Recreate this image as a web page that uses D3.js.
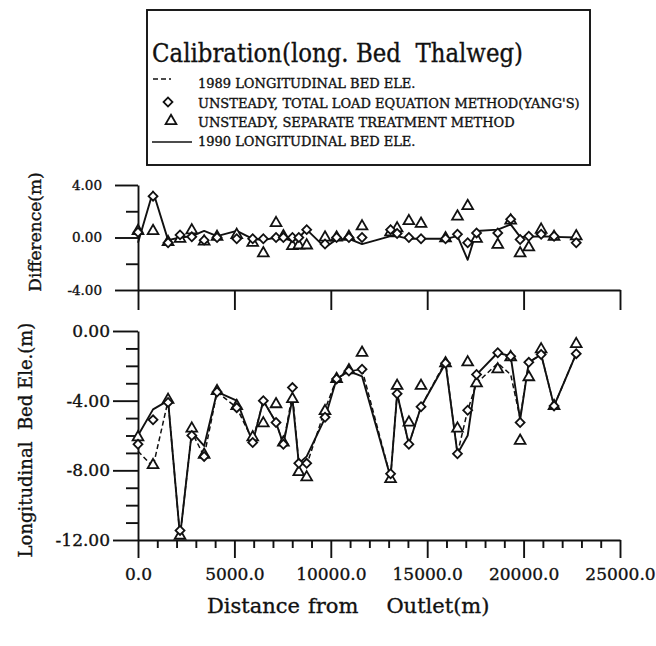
<!DOCTYPE html>
<html><head><meta charset="utf-8">
<script src="https://cdn.jsdelivr.net/npm/d3@7"></script>
<style>
body{margin:0;background:#fff}
svg{display:block}
text{font-family:"DejaVu Serif",serif;fill:#111;stroke:#111;stroke-width:0.35px}
</style>
</head><body>
<svg id="chart" width="656" height="646"></svg>
<script>
// ---------------- data ----------------
const distance = [0, 780, 1560, 2180, 2790, 3430, 4100, 5120, 5950, 6500, 7160, 7540, 8010, 8340, 8750, 9700, 10300, 10940, 11620, 13100, 13440, 14050, 14680, 15950, 16570, 17100, 17560, 18660, 19330, 19820, 20270, 20910, 21580, 22730];
const bed1989 = [-6.9, -7.8, -4.0, -11.8, -5.8, -7.2, -3.5, -4.4, -6.3, -4.0, -5.25, -6.5, -3.6, -7.6, -7.7, -4.5, -2.75, -2.3, -2.2, -8.4, -3.6, -6.5, -4.35, -1.75, -7.05, -4.55, -3.0, -1.85, -2.5, -5.0, -1.8, -1.35, -4.3, -1.3];
const bed1990 = [-6.0, -4.5, -4.0, -11.8, -5.8, -6.6, -3.5, -4.0, -6.4, -4.0, -5.25, -6.5, -3.9, -7.6, -7.2, -5.0, -2.75, -2.3, -2.6, -8.4, -3.6, -6.5, -4.35, -1.85, -7.05, -6.0, -2.5, -1.25, -1.45, -5.1, -1.8, -1.35, -4.3, -1.3];
const bedYang = [-6.5, -5.1, -4.1, -11.45, -6.0, -7.2, -3.5, -4.4, -6.4, -4.0, -5.25, -6.5, -3.25, -7.6, -7.6, -4.95, -2.75, -2.3, -2.2, -8.2, -3.6, -6.5, -4.35, -1.85, -7.05, -4.55, -2.5, -1.25, -1.45, -5.25, -1.8, -1.35, -4.3, -1.3];
const bedSeparate = [-6.1, -7.7, -3.95, -11.75, -5.6, -7.1, -3.45, -4.3, -6.1, -5.3, -4.2, -6.4, -3.9, -8.1, -8.4, -4.6, -2.75, -2.25, -1.25, -8.5, -3.15, -5.25, -3.15, -1.85, -5.6, -1.8, -3.0, -2.2, -1.5, -6.3, -2.65, -1.05, -4.3, -0.75];
const diffMeasured = [-0.4, 3.5, -0.2, 0.0, 0.1, 0.5, 0.1, 0.5, -0.1, -0.2, 0.0, 0.0, -0.3, 0.0, 0.6, -0.75, -0.15, -0.1, -0.5, 0.1, 0.1, -0.1, -0.1, -0.1, 0.1, -1.7, 0.5, 0.6, 1.0, 0.05, 0.05, 0.1, 0.05, 0.0];
const diffYang = [0.4, 3.15, -0.4, 0.2, 0.05, -0.2, 0.0, -0.1, -0.1, -0.1, 0.0, 0.0, 0.0, 0.0, 0.6, -0.5, 0.0, 0.0, 0.0, 0.6, 0.3, 0.0, -0.1, -0.1, 0.25, -0.4, 0.35, 0.35, 1.4, -0.15, 0.1, 0.25, 0.1, -0.4];
const diffSeparate = [0.5, 0.5, -0.35, -0.1, 0.55, -0.3, 0.05, 0.2, -0.4, -1.2, 1.1, 0.1, -0.65, -0.6, -0.6, 0.0, 0.0, 0.05, 0.85, 0.4, 0.7, 1.25, 1.05, -0.05, 1.6, 2.4, -0.1, -0.55, 1.3, -1.2, -0.75, 0.6, 0.05, 0.1];

const xMajor = [0, 5000, 10000, 15000, 20000, 25000];
const xMinor = d3.range(0, 25001, 1000).filter(v => v % 5000 !== 0);
const topMajor = [-4, 0, 4];
const topMinor = [-2, 2];
const botMajor = [0, -4, -8, -12];
const botMinor = [-1, -2, -3, -5, -6, -7, -9, -10, -11];

const titleText = "Calibration(long. Bed  Thalweg)";
const legendLabels = ["1989 LONGITUDINAL BED ELE.", "UNSTEADY, TOTAL LOAD EQUATION METHOD(YANG'S)", "UNSTEADY, SEPARATE TREATMENT METHOD", "1990 LONGITUDINAL BED ELE."];

// ---------------- drawing ----------------
const svg = d3.select("#chart");
const x = d3.scaleLinear().domain([0, 25000]).range([138, 620]);
const yTop = d3.scaleLinear().domain([-4, 4]).range([290, 185]);
const yBot = d3.scaleLinear().domain([-12, 0]).range([540, 331]);
const fmt2 = d => d.toFixed(2);
const fmt1 = d => d.toFixed(1);
const SW = 1.9;

function styleAxis(g) {
  g.selectAll("path.domain").attr("stroke", "#111").attr("stroke-width", SW);
  g.selectAll(".tick line").attr("stroke", "#111").attr("stroke-width", SW);
  g.selectAll("text").style("font-family", '"DejaVu Serif", serif').attr("fill", "#111");
}

// top panel axes
const gTopY = svg.append("g").attr("transform", "translate(138,0)")
  .call(d3.axisLeft(yTop).tickValues(topMajor).tickSize(23).tickSizeOuter(0).tickPadding(13).tickFormat(fmt2));
gTopY.selectAll("text").style("font-size", "13.5px");
styleAxis(gTopY);
const gTopYm = svg.append("g").attr("transform", "translate(138,0)")
  .call(d3.axisLeft(yTop).tickValues(topMinor).tickSize(12).tickSizeOuter(0).tickFormat(""));
gTopYm.select("path.domain").remove();
styleAxis(gTopYm);
const gTopX = svg.append("g").attr("transform", "translate(0,290)")
  .call(d3.axisBottom(x).tickValues(xMajor).tickSize(20).tickSizeOuter(0).tickFormat(""));
styleAxis(gTopX);

// bottom panel axes
const gBotY = svg.append("g").attr("transform", "translate(138,0)")
  .call(d3.axisLeft(yBot).tickValues(botMajor).tickSize(25).tickSizeOuter(0).tickPadding(3).tickFormat(fmt2));
gBotY.selectAll("text").style("font-size", "17px");
styleAxis(gBotY);
const gBotYm = svg.append("g").attr("transform", "translate(138,0)")
  .call(d3.axisLeft(yBot).tickValues(botMinor).tickSize(12).tickSizeOuter(0).tickFormat(""));
gBotYm.select("path.domain").remove();
styleAxis(gBotYm);
const gBotX = svg.append("g").attr("transform", "translate(0,540)")
  .call(d3.axisBottom(x).tickValues(xMajor).tickSize(18).tickSizeOuter(0).tickFormat(fmt1));
gBotX.selectAll("text").style("font-size", "17px").attr("y", 40).attr("dy", 0);
styleAxis(gBotX);
const gBotXm = svg.append("g").attr("transform", "translate(0,540)")
  .call(d3.axisBottom(x).tickValues(xMinor).tickSize(8).tickSizeOuter(0).tickFormat(""));
gBotXm.select("path.domain").remove();
styleAxis(gBotXm);

// lines
const idx = d3.range(distance.length);
function drawLine(vals, yScale, dashed) {
  const line = d3.line().x(i => x(distance[i])).y(i => yScale(vals[i]));
  svg.append("path").datum(idx).attr("d", line)
    .attr("fill", "none").attr("stroke", "#111")
    .attr("stroke-width", dashed ? 1.5 : 1.9)
    .attr("stroke-linejoin", "round")
    .attr("stroke-dasharray", dashed ? "5,3" : null);
}
const diamondPath = d3.symbol().type(d3.symbolSquare).size(40)();
const trianglePath = d3.symbol().type(d3.symbolTriangle).size(50)();
function drawMarkers(vals, yScale, kind) {
  svg.append("g").selectAll("path").data(idx).join("path")
    .attr("d", kind === "d" ? diamondPath : trianglePath)
    .attr("transform", i => `translate(${x(distance[i])},${yScale(vals[i])})` + (kind === "d" ? " rotate(45)" : ""))
    .attr("fill", "#fff").attr("stroke", "#111").attr("stroke-width", 1.8);
}

// top panel: difference
drawLine(diffMeasured, yTop, false);
drawMarkers(diffSeparate, yTop, "t");
drawMarkers(diffYang, yTop, "d");

// bottom panel: bed elevations
drawLine(bed1989, yBot, true);
drawLine(bed1990, yBot, false);
drawMarkers(bedSeparate, yBot, "t");
drawMarkers(bedYang, yBot, "d");

// axis titles
svg.append("text").attr("transform", "translate(41,232) rotate(-90)")
  .attr("text-anchor", "middle").style("font-size", "17px").text("Difference(m)");
svg.append("text").attr("transform", "translate(32,440) rotate(-90)")
  .attr("text-anchor", "middle").style("font-size", "18px").style("white-space", "pre")
  .text("Longitudinal  Bed Ele.(m)");
const xt = svg.append("text").attr("x", 207).attr("y", 613).style("font-size", "21px");
xt.append("tspan").text("Distance");
xt.append("tspan").attr("dx", 8).text("from");
xt.append("tspan").attr("dx", 28).text("Outlet(m)");

// legend
svg.append("rect").attr("x", 147).attr("y", 10).attr("width", 443).attr("height", 155)
  .attr("fill", "none").attr("stroke", "#111").attr("stroke-width", 1.9);
svg.append("text").attr("x", 152).attr("y", 62).style("font-size", "26px").style("white-space", "pre")
  .attr("textLength", 371).attr("lengthAdjust", "spacingAndGlyphs").text(titleText);
const legY = [88, 108, 127, 146];
svg.append("g").selectAll("text").data(legendLabels).join("text")
  .attr("x", 198).attr("y", (d, i) => legY[i]).style("font-size", "13px").text(d => d);
svg.append("line").attr("x1", 153).attr("x2", 171).attr("y1", 79).attr("y2", 79)
  .attr("stroke", "#111").attr("stroke-width", 1.5).attr("stroke-dasharray", "5,3");
svg.append("path").attr("d", diamondPath).attr("transform", "translate(168,102) rotate(45)")
  .attr("fill", "#fff").attr("stroke", "#111").attr("stroke-width", 1.8);
svg.append("path").attr("d", trianglePath).attr("transform", "translate(171,121)")
  .attr("fill", "#fff").attr("stroke", "#111").attr("stroke-width", 1.8);
svg.append("line").attr("x1", 152).attr("x2", 192).attr("y1", 142).attr("y2", 142)
  .attr("stroke", "#111").attr("stroke-width", 1.7);
</script>
</body></html>
